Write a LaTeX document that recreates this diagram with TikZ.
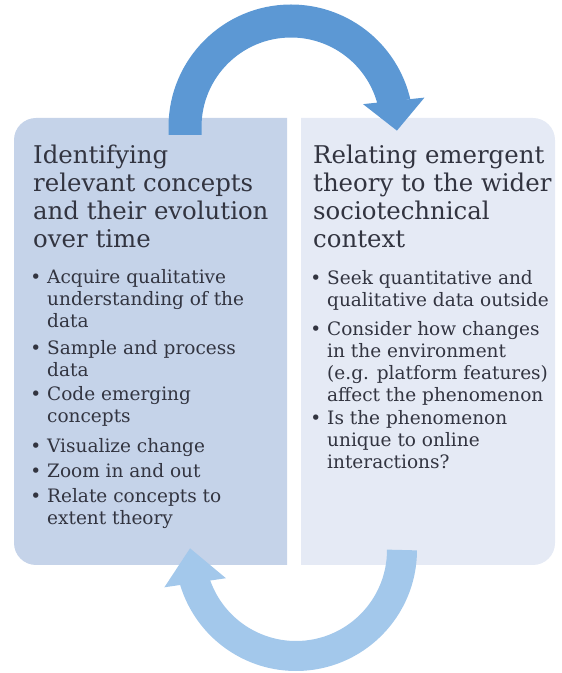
\documentclass[tikz,border=0pt]{standalone}
\usepackage{fontspec}
\setmainfont{DejaVu Serif}
\usetikzlibrary{arrows.meta,bending}

\definecolor{inkgray}{RGB}{50,52,64}
\definecolor{leftfill}{RGB}{197,211,233}
\definecolor{rightfill}{RGB}{229,234,245}
\definecolor{arrowdark}{RGB}{92,152,212}
\definecolor{arrowlight}{RGB}{163,200,235}

\newcommand{\pt}{\llap{\textbullet\hspace{6pt}}}

\begin{document}
\begin{tikzpicture}[x=1pt, y=1pt,
		headtext/.style={anchor=base west, align=left, inner sep=0pt, text=inkgray, font=\fontsize{24.4}{28}\selectfont},
		pointtext/.style={anchor=base west, align=left, inner sep=0pt, text=inkgray, font=\fontsize{18.5}{22}\selectfont},
		looparrow/.style={line width=#1, line cap=butt}]
	\useasboundingbox (0,0) rectangle (562,673);
	
	% 1. 左右两个底板 (左侧圆角在外, 右侧圆角在外)
	\fill[leftfill] (287,555) -- (36,555) arc[start angle=90, end angle=180, radius=22]
		-- (14,130) arc[start angle=180, end angle=270, radius=22] -- (287,108) -- cycle;
	\fill[rightfill] (301,555) -- (533,555) arc[start angle=90, end angle=0, radius=22]
		-- (555,130) arc[start angle=0, end angle=-90, radius=22] -- (301,108) -- cycle;
	
	% 2. 上下两条循环箭头
	\draw[looparrow=33pt, arrowdark, -{Triangle[length=30pt, width=60pt]}]
		(185,538) -- (185,546) arc[start angle=180, end angle=-2, radius=106];
	\draw[looparrow=30pt, arrowlight, -{Triangle[length=35pt, width=60pt]}]
		(402,123) arc[start angle=0, end angle=-181, radius=106];
	
	% 3. 左栏标题与要点 (多行节点的 base 取最后一行基线)
	\node[headtext] (headL) at (33,425) {Identifying\\relevant concepts\\and their evolution\\over time};
	\node[pointtext] (ptL1) at (47,345) {\pt Acquire qualitative\\understanding of the\\data};
	\node[pointtext] (ptL2) at (47,296) {\pt Sample and process\\data};
	\node[pointtext] (ptL3) at (47,250) {\pt Code emerging\\concepts};
	\node[pointtext] (ptL4) at (47,220) {\pt Visualize change};
	\node[pointtext] (ptL5) at (47,195) {\pt Zoom in and out};
	\node[pointtext] (ptL6) at (47,148) {\pt Relate concepts to\\extent theory};
	
	% 4. 右栏标题与要点
	\node[headtext] (headR) at (313,425) {Relating emergent\\theory to the wider\\sociotechnical\\context};
	\node[pointtext] (ptR1) at (327,366) {\pt Seek quantitative and\\qualitative data outside};
	\node[pointtext] (ptR2) at (327,271) {\pt Consider how changes\\in the environment\\(e.g. platform features)\\affect the phenomenon};
	\node[pointtext] (ptR3) at (327,204) {\pt Is the phenomenon\\unique to online\\interactions?};
\end{tikzpicture}
\end{document}
